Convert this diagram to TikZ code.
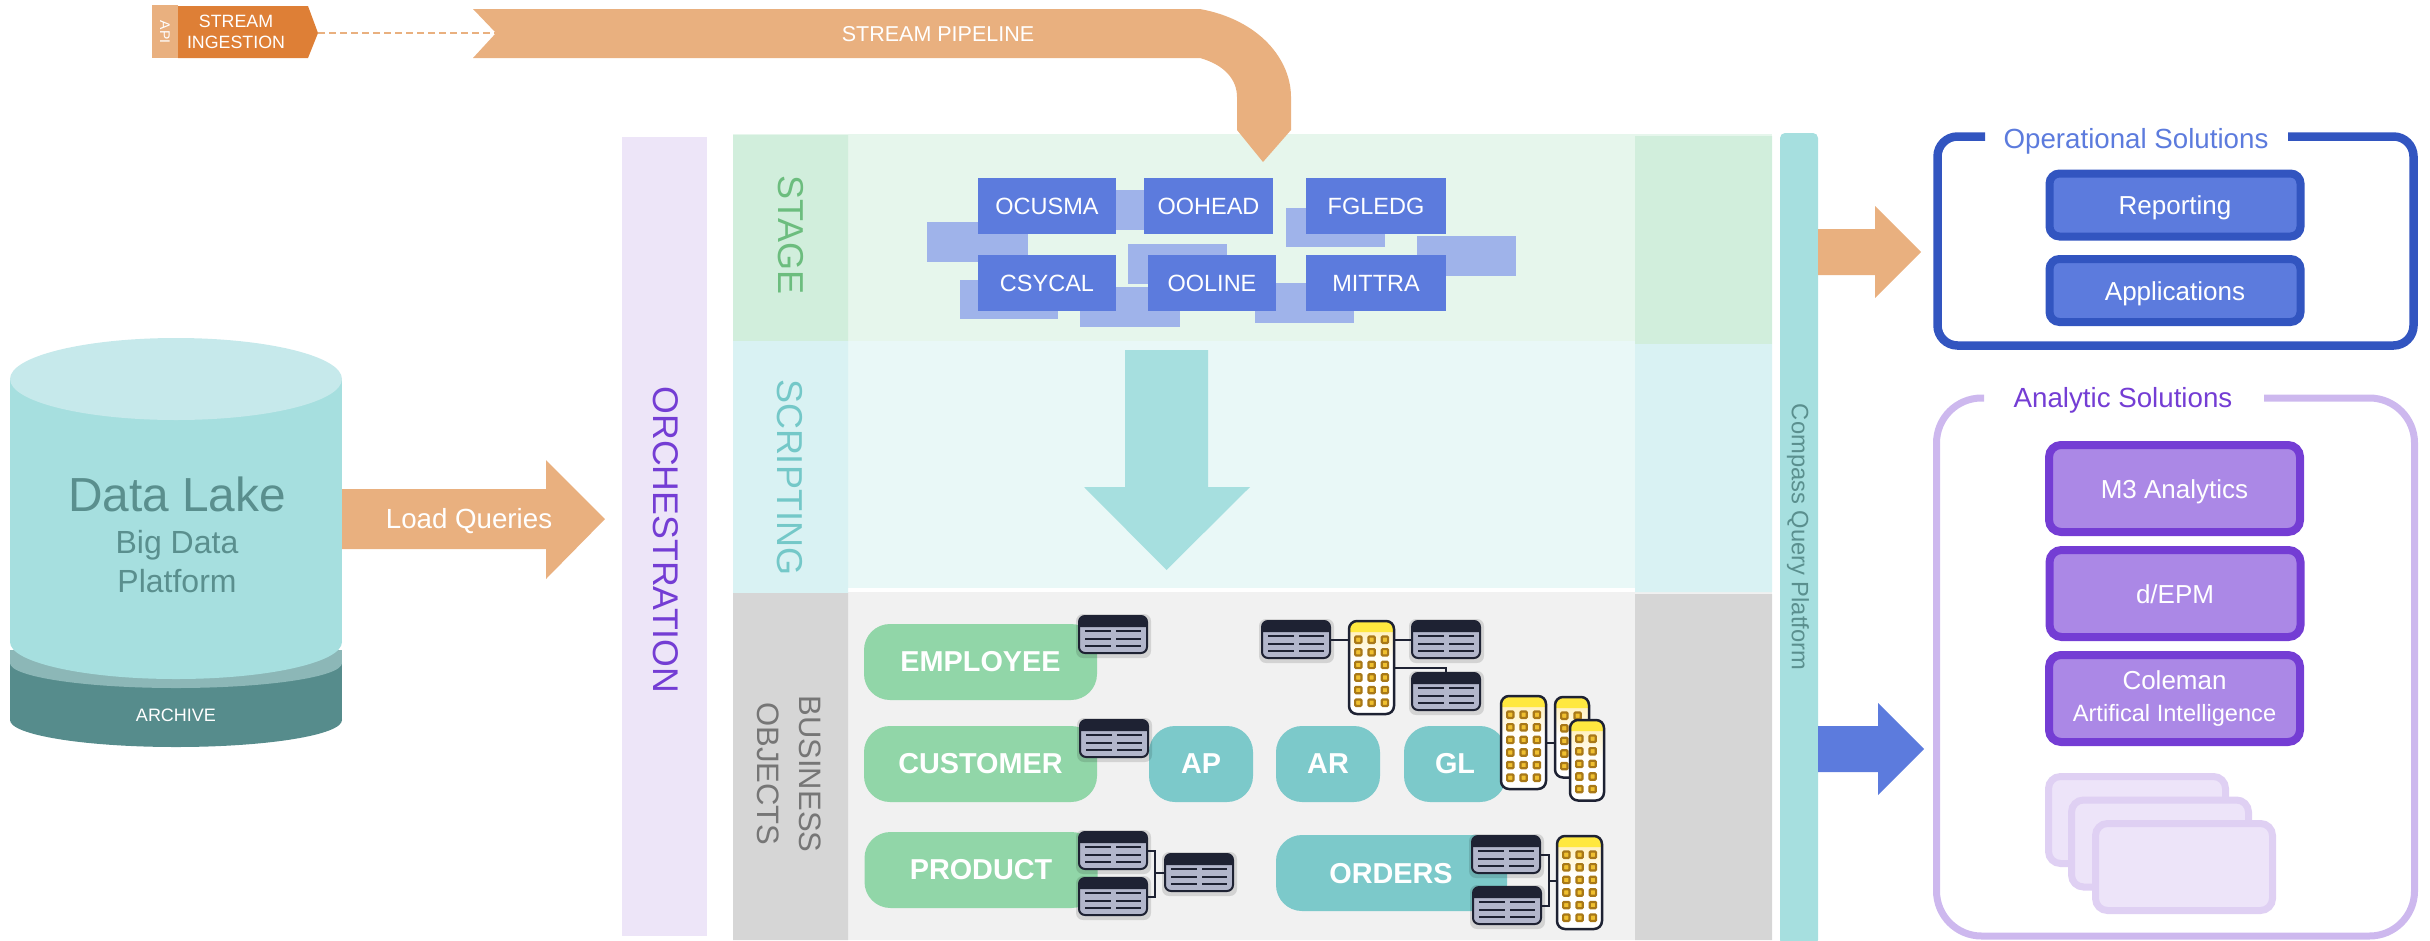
\documentclass[tikz,border=0pt]{standalone}
\usepackage{fontspec}
\setmainfont{Liberation Sans}
\definecolor{peach}{HTML}{E9B07F}
\definecolor{ingest}{HTML}{DE7F36}
\definecolor{stagelight}{HTML}{E6F6EC}
\definecolor{stagedark}{HTML}{D1EEDC}
\definecolor{stagetext}{HTML}{6CBD7E}
\definecolor{scriptlight}{HTML}{E9F8F7}
\definecolor{scriptdark}{HTML}{D9F2F3}
\definecolor{scripttext}{HTML}{74C8C8}
\definecolor{objlight}{HTML}{F1F1F1}
\definecolor{objdark}{HTML}{D6D6D6}
\definecolor{objtext}{HTML}{767676}
\definecolor{orchfill}{HTML}{EDE5F8}
\definecolor{violet}{HTML}{743DD4}
\definecolor{violetfill}{HTML}{AB88E6}
\definecolor{violetpale}{HTML}{CDB8EE}
\definecolor{sparefill}{HTML}{EDE4F9}
\definecolor{spareedge}{HTML}{DFD0F3}
\definecolor{royal}{HTML}{3255C0}
\definecolor{bluefill}{HTML}{5C7BDD}
\definecolor{blueshade}{HTML}{9FB3EA}
\definecolor{lakebody}{HTML}{A6DFDF}
\definecolor{laketop}{HTML}{C6E9EB}
\definecolor{laketext}{HTML}{5A8F8E}
\definecolor{archivedark}{HTML}{568C8C}
\definecolor{archivelight}{HTML}{8CB7B7}
\definecolor{pillgreen}{HTML}{91D6A8}
\definecolor{pillteal}{HTML}{7CC9CA}
\definecolor{tablehead}{HTML}{1E2233}
\definecolor{tablebody}{HTML}{B2B6CB}
\definecolor{factyellow}{HTML}{FFE83F}
\definecolor{facttint}{HTML}{FFF1C0}
\definecolor{factcell}{HTML}{A87818}
\definecolor{factcore}{HTML}{F0C030}
\tikzset{
    plainnode/.style={inner sep=0pt,outer sep=0pt},
    stagebox/.style={plainnode,fill=bluefill,text=white,minimum height=56,font=\fontsize{23.5}{28}\selectfont},
    pillgreenbox/.style={plainnode,fill=pillgreen,text=white,rounded corners=26pt,minimum width=233,minimum height=76,font=\bfseries\fontsize{28.8}{34}\selectfont},
    pilltealbox/.style={plainnode,fill=pillteal,text=white,rounded corners=26pt,minimum height=76,font=\bfseries\fontsize{28.8}{34}\selectfont},
    opbox/.style={plainnode,draw=royal,line width=8pt,fill=bluefill,text=white,rounded corners=10pt,minimum width=251,minimum height=63,text height=19,text depth=0,font=\fontsize{26}{30}\selectfont},
    anbox/.style={plainnode,draw=violet,line width=8pt,fill=violetfill,text=white,rounded corners=12pt,minimum width=251,minimum height=87,align=center,font=\fontsize{26}{30}\selectfont},
    sparebox/.style={plainnode,draw=spareedge,line width=7pt,fill=sparefill,rounded corners=12pt,minimum width=177,minimum height=87},
    bandtext/.style={plainnode,rotate=-90,align=center},
    tableedge/.style={plainnode,draw=tablehead,line width=2pt,rounded corners=6pt,minimum width=68,minimum height=37,anchor=north west},
    factedge/.style={plainnode,draw=tablehead,line width=2.5pt,rounded corners=8pt,anchor=north west},
    tablelink/.style={draw=tablehead,line width=2pt},
}
\newcommand{\dimtable}[3]{
    \begin{scope}[shift={(#2,#3)}]
        \fill[black,opacity=.12,rounded corners=7pt] (-3,-2) rectangle (72,42);
        \fill[tablebody,rounded corners=6pt] (0,0) rectangle (68,37);
        \fill[tablehead] (0,11) [rounded corners=6pt] -- (0,0) -- (68,0) [sharp corners] -- (68,11) -- cycle;
        \foreach \yrow in {15,23,30}
            \draw[tablehead,line width=2.6pt] (6,\yrow) -- (32,\yrow) (37,\yrow) -- (62,\yrow);
        \node[tableedge] (#1) at (0,0) {};
    \end{scope}
}
\newcommand{\facttable}[5]{
    \begin{scope}[shift={(#2,#3)}]
        \pgfmathsetmacro{\factw}{11*#4+12}
        \pgfmathsetmacro{\facth}{12.5*#5+18}
        \fill[white,rounded corners=8pt] (0,0) rectangle (\factw,\facth);
        \shade[top color=facttint,bottom color=white] (1,10) rectangle (\factw-1,40);
        \fill[factyellow] (0,11) [rounded corners=8pt] -- (0,0) -- (\factw,0) [sharp corners] -- (\factw,11) -- cycle;
        \foreach \fcol in {1,...,#4}
            \foreach \frow in {1,...,#5}
                \draw[factcell,fill=factcore,line width=2.2pt,rounded corners=1pt]
                    ({9.3+13.3*(\fcol-1)-3.2},{18.7+12.6*(\frow-1)-3.2}) rectangle ++(6.4,6.4);
        \node[factedge,minimum width=\factw,minimum height=\facth] (#1) at (0,0) {};
    \end{scope}
}
\begin{document}
    \begin{tikzpicture}[x=1pt,y=-1pt]
        \useasboundingbox (0,0) rectangle (2430,940);
        \fill[orchfill] (622,137) rectangle (707,936);
        \fill[stagelight] (733,134) rectangle (1772,341);
        \fill[scriptlight] (733,341) rectangle (1772,588);
        \fill[objlight] (733,592) rectangle (1772,940);
        \fill[stagedark] (733,135) rectangle (848,341) (1635,136) rectangle (1772,344);
        \fill[scriptdark] (733,341) rectangle (848,593) (1635,344) rectangle (1772,592);
        \fill[objdark] (733,593) rectangle (848,940) (1635,594) rectangle (1772,940);
        \fill[lakebody,rounded corners=5pt] (1780,133) rectangle (1818,945);
        \fill[archivedark] (176,720) ellipse [x radius=166,y radius=27];
        \fill[archivedark] (10,663) rectangle (342,720);
        \fill[archivelight] (10,650) rectangle (342,663);
        \fill[archivelight] (176,663) ellipse [x radius=166,y radius=25];
        \fill[lakebody] (176,642) ellipse [x radius=166,y radius=37];
        \fill[lakebody] (10,379) rectangle (342,642);
        \fill[laketop] (176,379) ellipse [x radius=166,y radius=41];
        \node[plainnode,text=laketext,font=\fontsize{47.8}{52}\selectfont] (lake) at (177,494) {Data Lake};
        \node[plainnode,text=laketext,align=center,font=\fontsize{32}{39}\selectfont] (bigdata) at (177,562) {Big Data\\Platform};
        \node[plainnode,text=white,font=\fontsize{18}{22}\selectfont] (archive) at (176,715) {ARCHIVE};
        \fill[peach] (342,489) -- (546,489) -- (546,460) -- (605,519) -- (546,579) -- (546,549) -- (342,549) -- cycle;
        \node[plainnode,text=white,font=\fontsize{27.7}{32}\selectfont] (loadq) at (469,521) {Load Queries};
        \fill[peach] (152,5) rectangle (178,58);
        \fill[ingest] (178,6) -- (308,6) -- (318,33) -- (308,58) -- (178,58) -- cycle;
        \node[plainnode,text=white,rotate=-90,font=\fontsize{14}{16}\selectfont] (api) at (165,32) {API};
        \node[plainnode,text=white,align=center,font=\fontsize{17.8}{21}\selectfont] (ingestion) at (236,32) {STREAM\\INGESTION};
        \coordinate (ingesttip) at (318,33);
        \coordinate (pipenotch) at (496,33);
        \draw[peach,line width=2.2pt,dash pattern=on 7pt off 4pt] (ingesttip) -- (pipenotch);
        \fill[peach] (473,9) -- (1200,9) .. controls (1260,20) and (1291,60) .. (1291,97) -- (1291,130) -- (1263,162) -- (1237,130) -- (1237,97) .. controls (1237,80) and (1225,65) .. (1200,58) -- (473,58) -- (496,33) -- cycle;
        \node[plainnode,text=white,font=\fontsize{21.5}{26}\selectfont] (pipeline) at (938,34) {STREAM PIPELINE};
        \node[bandtext,text=violet,font=\fontsize{35.7}{40}\selectfont] (orchestration) at (666,540) {ORCHESTRATION};
        \node[bandtext,text=stagetext,font=\fontsize{36}{40}\selectfont] (stage) at (791,235) {STAGE};
        \node[bandtext,text=scripttext,font=\fontsize{36}{40}\selectfont] (scripting) at (790,477) {SCRIPTING};
        \node[bandtext,text=objtext,font=\fontsize{31}{42}\selectfont] (objects) at (789,774) {BUSINESS\\OBJECTS};
        \node[bandtext,text=laketext,font=\fontsize{23.7}{28}\selectfont] (compass) at (1798,537) {Compass Query Platform};
        \fill[blueshade] (1050,190) rectangle (1150,230);
        \fill[blueshade] (927,222) rectangle (1028,262);
        \fill[blueshade] (960,280) rectangle (1058,319);
        \fill[blueshade] (1080,287) rectangle (1180,327);
        \fill[blueshade] (1128,244) rectangle (1227,284);
        \fill[blueshade] (1255,283) rectangle (1354,323);
        \fill[blueshade] (1286,208) rectangle (1385,247);
        \fill[blueshade] (1417,236) rectangle (1516,276);
        \node[stagebox,minimum width=138] (ocusma) at (1047,206) {OCUSMA};
        \node[stagebox,minimum width=129] (oohead) at (1208.5,206) {OOHEAD};
        \node[stagebox,minimum width=140] (fgledg) at (1376,206) {FGLEDG};
        \node[stagebox,minimum width=138] (csycal) at (1047,283) {CSYCAL};
        \node[stagebox,minimum width=128] (ooline) at (1212,283) {OOLINE};
        \node[stagebox,minimum width=140] (mittra) at (1376,283) {MITTRA};
        \fill[lakebody] (1125,350) -- (1208,350) -- (1208,487) -- (1250,487) -- (1166.5,570) -- (1084,487) -- (1125,487) -- cycle;
        \node[pillgreenbox] (employee) at (980.5,662) {EMPLOYEE};
        \node[pillgreenbox] (customer) at (980.5,764) {CUSTOMER};
        \node[pillgreenbox] (product) at (981,870) {PRODUCT};
        \node[pilltealbox,minimum width=104] (ap) at (1201,764) {AP};
        \node[pilltealbox,minimum width=104] (ar) at (1328,764) {AR};
        \node[pilltealbox,minimum width=102] (gl) at (1455,764) {GL};
        \fill[pillteal,rounded corners=26pt] (1276,835) rectangle (1507,911);
        \node[plainnode,text=white,font=\bfseries\fontsize{28.8}{34}\selectfont] (orders) at (1391,874) {ORDERS};
        \dimtable{temp}{1079}{616}
        \dimtable{tcust}{1080}{720}
        \dimtable{tprodup}{1079}{832}
        \dimtable{tproddown}{1079}{878}
        \dimtable{tprodjoin}{1165}{854}
        \dimtable{tordup}{1472}{836}
        \dimtable{torddown}{1473}{887}
        \dimtable{tleft}{1262}{621}
        \dimtable{tright}{1412}{621}
        \dimtable{tbelow}{1412}{673}
        \facttable{fstar}{1349}{621}{3}{6}
        \facttable{fglback}{1555}{697}{2}{5}
        \facttable{fglmain}{1501}{696}{3}{6}
        \facttable{fglfront}{1570}{720}{2}{5}
        \facttable{ford}{1557}{836}{3}{6}
        \coordinate (prodjoin) at (1155,872.5);
        \coordinate (ordjoin) at (1549,881);
        \draw[tablelink] (tleft.east) -- (fstar.west |- tleft.east);
        \draw[tablelink] (fstar.east |- tright.west) -- (tright.west);
        \draw[tablelink] (fstar.east) -| (tbelow.north);
        \draw[tablelink] (fglmain.east) -- (fglback.west |- fglmain.east);
        \draw[tablelink] (tprodup.east) -| (prodjoin) |- (tproddown.east);
        \draw[tablelink] (prodjoin) -- (tprodjoin.west);
        \draw[tablelink] (tordup.east) -| (ordjoin) |- (torddown.east);
        \draw[tablelink] (ordjoin) -- (ford.west |- ordjoin);
        \fill[peach] (1818,229) -- (1875,229) -- (1875,206) -- (1921,252) -- (1875,298) -- (1875,275) -- (1818,275) -- cycle;
        \fill[bluefill] (1818,726) -- (1878,726) -- (1878,703) -- (1924,749) -- (1878,795) -- (1878,772) -- (1818,772) -- cycle;
        \draw[royal,line width=8.5pt,rounded corners=20pt] (1985,136.5) -- (1937.5,136.5) -- (1937.5,345.5) -- (2413.5,345.5) -- (2413.5,136.5) -- (2288,136.5);
        \node[plainnode,text=bluefill,font=\fontsize{27.7}{32}\selectfont] (optitle) at (2136,141) {Operational Solutions};
        \node[opbox] (reporting) at (2175,205) {Reporting};
        \node[opbox] (applications) at (2175,290.5) {Applications};
        \draw[violetpale,line width=7pt,rounded corners=45pt] (1984,398) -- (1936.5,398) -- (1936.5,936) -- (2414.5,936) -- (2414.5,398) -- (2264,398);
        \node[plainnode,text=violet,font=\fontsize{27.7}{32}\selectfont] (antitle) at (2123,400) {Analytic Solutions};
        \node[anbox,text height=19,text depth=0] (mthree) at (2174.5,488.5) {M3 Analytics};
        \node[anbox,text height=19,text depth=0] (depm) at (2175,593.5) {d/EPM};
        \node[anbox,font=\fontsize{26}{30}\selectfont] (coleman) at (2174.5,698.5) {Coleman\\[2pt]{\fontsize{23.6}{27}\selectfont Artifical Intelligence}};
        \node[sparebox] (spareback) at (2137,820) {};
        \node[sparebox] (sparemid) at (2160,843.5) {};
        \node[sparebox] (sparefront) at (2184,867) {};
    \end{tikzpicture}
\end{document}
